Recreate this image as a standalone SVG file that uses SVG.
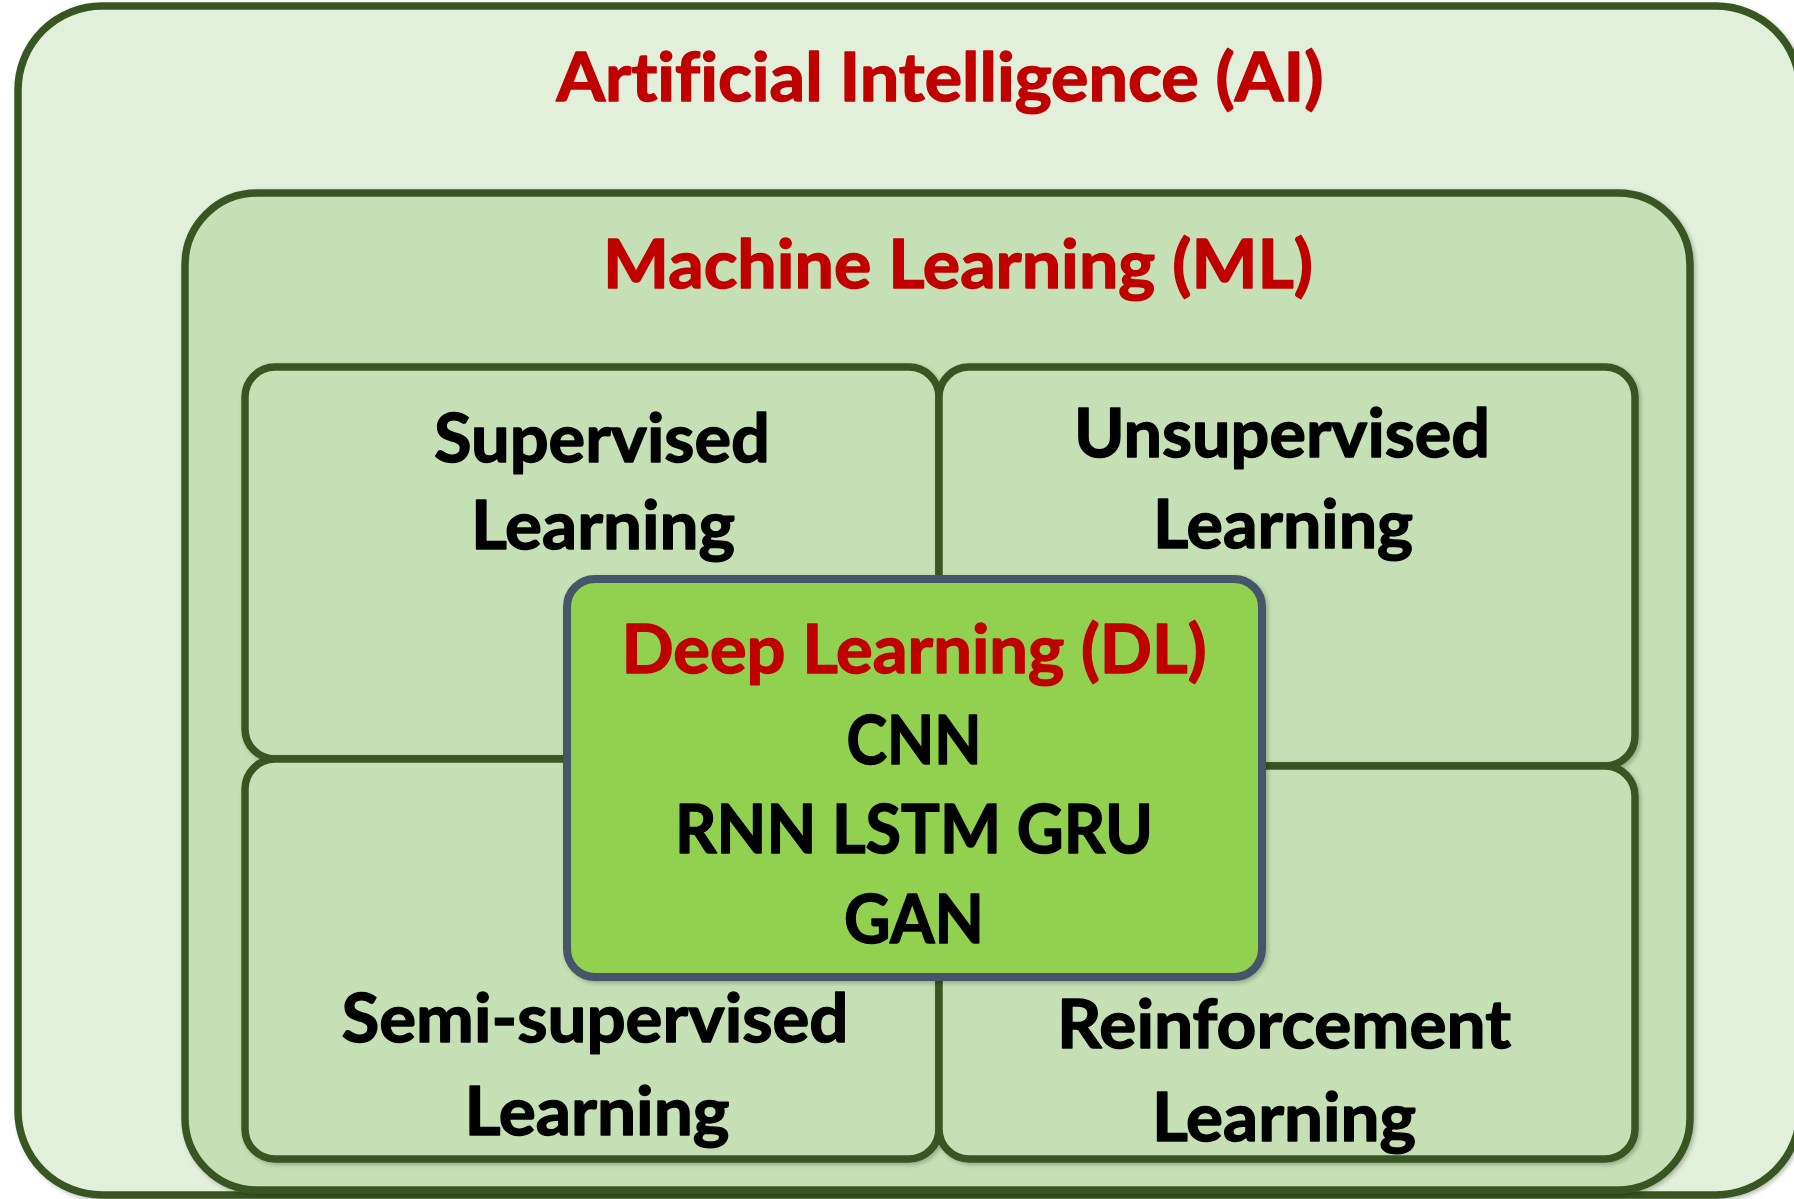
<svg xmlns="http://www.w3.org/2000/svg" width="1794" height="1199" viewBox="0 0 1794 1199">
  <style>
    .box { stroke: #385723; stroke-width: 7.5; }
    .light { fill: #E2EFDA; }
    .mid { fill: #C5E0B4; }
    .dl { fill: #92D050; stroke: #44546A; stroke-width: 8; }
    text { font-family: "Lato", "Open Sans", "Liberation Sans", sans-serif; font-weight: bold; font-size: 66px; text-anchor: middle; font-variant-ligatures: none; font-feature-settings: "liga" 0, "clig" 0; stroke-width: 1.4; stroke-linejoin: round; }
    .red { fill: #C00000; stroke: #C00000; }
    .blk { fill: #000000; stroke: #000000; }
  </style>
  <defs>
    <filter id="sh" x="-5%" y="-5%" width="110%" height="110%">
      <feDropShadow dx="2" dy="2" stdDeviation="2" flood-color="#000" flood-opacity="0.25"/>
    </filter>
  </defs>
  <rect width="1794" height="1199" fill="#FFFFFF"/>

  <g id="ai">
    <rect class="box light" x="18" y="6" width="1782" height="1189" rx="84" filter="url(#sh)"/>
    <text class="red" x="940" y="101" textLength="767" lengthAdjust="spacingAndGlyphs">Artificial Intelligence (AI)</text>
  </g>

  <g id="ml">
    <rect class="box mid" x="185" y="193" width="1505" height="997" rx="72" filter="url(#sh)"/>
    <text class="red" x="958" y="288" textLength="710" lengthAdjust="spacingAndGlyphs">Machine Learning (ML)</text>
  </g>

  <g id="supervised">
    <rect class="box mid" x="245" y="367" width="694" height="392" rx="30" filter="url(#sh)"/>
    <text class="blk" x="602" y="462" textLength="336" lengthAdjust="spacingAndGlyphs">Supervised</text>
    <text class="blk" x="603" y="549" textLength="264" lengthAdjust="spacingAndGlyphs">Learning</text>
  </g>

  <g id="unsupervised">
    <rect class="box mid" x="939" y="367" width="696" height="399" rx="30" filter="url(#sh)"/>
    <text class="blk" x="1282" y="457" textLength="416" lengthAdjust="spacingAndGlyphs">Unsupervised</text>
    <text class="blk" x="1283" y="548" textLength="260" lengthAdjust="spacingAndGlyphs">Learning</text>
  </g>

  <g id="semi-supervised">
    <rect class="box mid" x="245" y="759" width="694" height="400" rx="30" filter="url(#sh)"/>
    <text class="blk" x="595" y="1042" textLength="507" lengthAdjust="spacingAndGlyphs">Semi-supervised</text>
    <text class="blk" x="597" y="1135" textLength="265" lengthAdjust="spacingAndGlyphs">Learning</text>
  </g>

  <g id="reinforcement">
    <rect class="box mid" x="939" y="766" width="696" height="393" rx="30" filter="url(#sh)"/>
    <text class="blk" x="1284" y="1048" textLength="454" lengthAdjust="spacingAndGlyphs">Reinforcement</text>
    <text class="blk" x="1284" y="1141" textLength="264" lengthAdjust="spacingAndGlyphs">Learning</text>
  </g>

  <g id="deep-learning">
    <rect class="dl" x="567" y="579" width="695" height="398" rx="28" filter="url(#sh)"/>
    <text class="red" x="914" y="673" textLength="585" lengthAdjust="spacingAndGlyphs">Deep Learning (DL)</text>
    <text class="blk" x="914" y="764" textLength="135" lengthAdjust="spacingAndGlyphs">CNN</text>
    <text class="blk" x="914" y="853" textLength="478" lengthAdjust="spacingAndGlyphs">RNN LSTM GRU</text>
    <text class="blk" x="914" y="943" textLength="140" lengthAdjust="spacingAndGlyphs">GAN</text>
  </g>
</svg>
